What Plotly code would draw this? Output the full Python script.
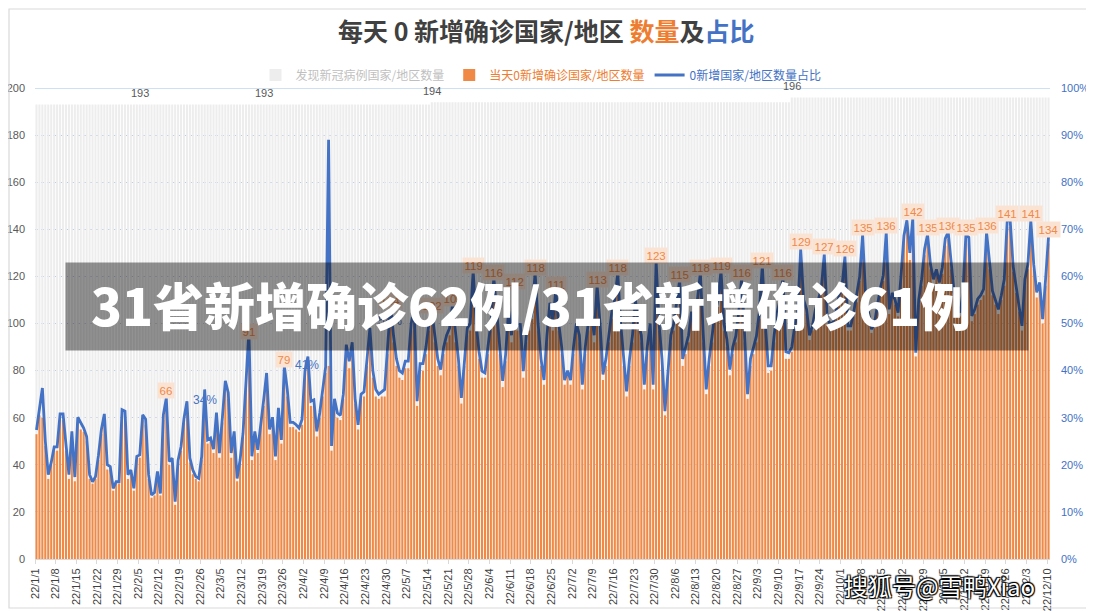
import plotly.graph_objects as go
import pandas as pd

# ---------------- data ----------------
start_date = "2022-01-01"

# 当天0新增确诊国家/地区数量 (daily, from 22/1/1)
zero_new = [
    53, 61, 60, 48, 34, 40, 46,
    46, 59, 59, 46, 34, 52, 33,
    58, 55, 54, 50, 34, 32, 34,
    42, 53, 59, 38, 38, 29, 32,
    32, 61, 61, 34, 36, 29, 42,
    43, 59, 57, 34, 26, 27, 36,
    27, 59, 66, 40, 41, 23, 41,
    46, 58, 65, 41, 36, 34, 33,
    42, 69, 49, 50, 45, 60, 43,
    58, 73, 68, 43, 52, 33, 41,
    52, 72, 91, 42, 52, 45, 56,
    65, 76, 53, 58, 42, 62, 49,
    79, 69, 56, 56, 55, 54, 57,
    77, 83, 65, 65, 52, 60, 69,
    79, 82, 46, 66, 60, 59, 68,
    88, 81, 89, 66, 55, 68, 69,
    82, 95, 77, 69, 68, 69, 69,
    87, 104, 92, 82, 77, 76, 81,
    81, 97, 103, 65, 80, 80, 87,
    97, 102, 92, 82, 78, 87, 92,
    95, 105, 92, 82, 66, 82, 95,
    97, 119, 97, 85, 77, 77, 87,
    97, 116, 102, 87, 73, 84, 103,
    92, 112, 97, 97, 77, 92, 97,
    102, 118, 97, 82, 74, 92, 106,
    97, 111, 97, 87, 74, 78, 74,
    87, 97, 92, 72, 87, 97, 102,
    92, 113, 97, 76, 82, 92, 102,
    107, 118, 97, 82, 69, 82, 92,
    107, 97, 92, 72, 87, 97, 72,
    123, 97, 82, 61, 78, 92, 97,
    107, 115, 82, 87, 92, 102, 97,
    107, 118, 92, 70, 82, 92, 102,
    107, 119, 97, 90, 78, 87, 92,
    101, 116, 92, 68, 82, 87, 92,
    102, 121, 97, 79, 80, 92, 101,
    107, 116, 85, 85, 88, 97, 103,
    129, 108, 104, 93, 97, 104, 108,
    113, 127, 100, 98, 98, 103, 109,
    113, 126, 97, 97, 103, 109, 118,
    135, 109, 103, 96, 98, 105, 113,
    118, 136, 104, 111, 108, 103, 118,
    135, 141, 127, 142, 86, 108, 116,
    129, 135, 123, 116, 121, 115, 121,
    133, 136, 123, 111, 106, 103, 111,
    135, 134, 101, 104, 108, 110, 112,
    136, 123, 112, 108, 104, 110, 116,
    141, 141, 122, 113, 105, 97, 116,
    123, 141, 123, 111, 115, 100, 116,
    134,
]

# 0新增国家/地区数量占比 (%)
zero_share = [
    27.4, 31.5, 36.3, 25.0, 17.9, 20.5, 23.8,
    23.8, 30.8, 30.8, 24.0, 17.9, 27.1, 17.4,
    30.1, 28.8, 27.8, 26.0, 17.9, 16.4, 17.5,
    22.0, 27.5, 30.8, 20.0, 19.6, 15.0, 16.4,
    16.4, 31.7, 31.4, 17.9, 18.9, 15.0, 21.8,
    22.1, 30.6, 29.7, 17.9, 13.6, 14.1, 18.6,
    13.9, 30.6, 34.2, 20.7, 21.4, 12.2, 21.0,
    23.9, 29.9, 33.5, 21.4, 18.9, 17.5, 17.1,
    21.8, 36.0, 25.3, 25.7, 23.3, 31.1, 22.5,
    30.0, 37.8, 35.3, 22.5, 27.1, 17.1, 21.0,
    26.7, 37.5, 48.5, 21.8, 27.1, 23.2, 29.2,
    33.8, 39.5, 27.5, 30.1, 21.8, 32.1, 25.3,
    41.0, 36.0, 29.0, 29.0, 28.5, 27.8, 29.6,
    40.0, 43.0, 33.5, 33.8, 27.1, 31.0, 36.0,
    40.8, 89.0, 24.0, 34.0, 31.0, 30.5, 35.0,
    45.5, 42.0, 46.0, 34.0, 28.5, 35.0, 35.5,
    42.5, 49.0, 40.0, 36.0, 35.0, 35.5, 36.0,
    45.0, 54.0, 47.5, 42.5, 40.0, 39.5, 42.0,
    42.0, 50.0, 53.3, 33.5, 41.5, 41.5, 45.0,
    50.0, 52.6, 47.5, 42.5, 40.2, 45.0, 47.5,
    49.0, 54.1, 47.5, 42.5, 34.2, 42.5, 49.0,
    50.0, 61.3, 50.0, 44.0, 39.9, 39.5, 45.0,
    50.0, 59.8, 52.5, 45.0, 37.8, 43.4, 52.9,
    47.5, 57.7, 50.0, 49.8, 39.9, 47.5, 50.0,
    52.5, 60.8, 50.0, 42.5, 38.0, 47.5, 54.4,
    50.0, 57.2, 50.0, 45.0, 38.0, 40.0, 38.0,
    45.0, 50.0, 47.5, 37.0, 45.0, 50.0, 52.5,
    47.5, 58.2, 50.0, 39.2, 42.5, 47.5, 52.5,
    55.0, 60.8, 50.0, 42.5, 35.6, 42.5, 47.5,
    55.0, 50.0, 47.5, 37.0, 45.0, 50.0, 37.0,
    63.4, 50.0, 42.5, 31.4, 40.0, 47.5, 50.0,
    55.0, 59.3, 42.5, 45.0, 47.5, 52.5, 50.0,
    55.0, 60.8, 47.5, 36.0, 42.5, 47.5, 52.5,
    55.0, 61.3, 50.0, 46.6, 40.2, 45.0, 47.3,
    52.3, 59.8, 47.5, 35.0, 42.5, 45.0, 47.3,
    52.5, 62.4, 50.0, 41.0, 41.0, 47.5, 52.3,
    55.0, 59.8, 44.0, 43.8, 45.0, 49.5, 52.5,
    65.8, 55.0, 53.0, 47.5, 49.5, 53.0, 55.0,
    57.5, 64.8, 50.9, 50.0, 50.2, 52.5, 55.9,
    57.7, 64.3, 49.5, 49.5, 52.5, 55.9, 60.0,
    68.9, 55.9, 52.5, 48.8, 50.0, 53.7, 57.5,
    60.2, 69.4, 53.0, 56.5, 55.0, 52.3, 60.0,
    68.7, 71.9, 65.0, 72.4, 43.8, 55.0, 59.4,
    65.8, 68.9, 62.5, 59.4, 61.5, 58.7, 61.9,
    68.0, 69.4, 63.0, 56.6, 54.0, 52.3, 56.6,
    68.9, 68.3, 51.6, 53.0, 55.2, 56.0, 57.3,
    69.4, 62.5, 56.9, 55.0, 53.0, 56.0, 59.4,
    71.9, 71.9, 62.2, 57.5, 53.7, 49.5, 59.4,
    62.5, 71.9, 62.5, 56.6, 58.7, 50.9, 59.4,
    68.4,
]

# 发现新冠病例国家/地区数量: (value, number of days)
total_segments = [(193, 134), (194, 122), (196, 88)]

tick_labels = [
    "22/1/1", "22/1/8", "22/1/15", "22/1/22", "22/1/29", "22/2/5", "22/2/12",
    "22/2/19", "22/2/26", "22/3/5", "22/3/12", "22/3/19", "22/3/26", "22/4/2",
    "22/4/9", "22/4/16", "22/4/23", "22/4/30", "22/5/7", "22/5/14", "22/5/21",
    "22/5/28", "22/6/4", "22/6/11", "22/6/18", "22/6/25", "22/7/2", "22/7/9",
    "22/7/16", "22/7/23", "22/7/30", "22/8/6", "22/8/13", "22/8/20", "22/8/27",
    "22/9/3", "22/9/10", "22/9/17", "22/9/24", "22/10/1", "22/10/8", "22/10/15",
    "22/10/22", "22/10/29", "22/11/5", "22/11/12", "22/11/19", "22/11/26",
    "22/12/3", "22/12/10",
]
left_ticks = list(range(0, 201, 20))
right_ticks = list(range(0, 101, 10))

# days that carry an orange value label
orange_label_dates = [
    "2022-02-14", "2022-03-14", "2022-03-26", "2022-05-01", "2022-05-15",
    "2022-05-22", "2022-05-29", "2022-06-05", "2022-06-12", "2022-06-19",
    "2022-06-26", "2022-07-10", "2022-07-17", "2022-07-30", "2022-08-07",
    "2022-08-14", "2022-08-21", "2022-08-28", "2022-09-04", "2022-09-11",
    "2022-09-17", "2022-09-25", "2022-10-02", "2022-10-08", "2022-10-16",
    "2022-10-25", "2022-10-30", "2022-11-06", "2022-11-12", "2022-11-19",
    "2022-11-26", "2022-12-04", "2022-12-10",
]
# days that carry a grey value label
grey_label_dates = ["2022-02-05", "2022-03-19", "2022-05-15", "2022-09-14"]
# percent labels: (date-time, left-axis height, text)
pct_labels = [("2022-02-27 02:00", 67.7, "34%"),
              ("2022-04-02 17:00", 82.2, "41%"),
              ("2022-04-30 19:00", 101.0, "54%")]

# ---------------- build ----------------
dates = pd.date_range(start_date, periods=len(zero_new), freq="D")
total = []
for v, n in total_segments:
    total += [v] * n

DAY_MS = 86400000
ORANGE = "#EF8945"
BLUE = "#4472C4"
GREY_TXT = "#595959"
FONT = "Noto Sans CJK SC, Liberation Sans, Arial, sans-serif"

# the page body has an 8px margin: the figure occupies page px 8..1094 / 8..611
OFF = 8
FW, FH = 1094 - OFF, 611 - OFF
# plot area in page px: x 35..1050, y 88..559
L, T = 35 - OFF, 88 - OFF
R, B = 1094 - 1050, 611 - 559
PW, PH = FW - L - R, FH - T - B


def px_x(x):  # page px -> paper coordinate
    return (x - OFF - L) / PW


def px_y(y):
    return (FH - B - (y - OFF)) / PH


fig = go.Figure()
fig.add_trace(go.Bar(
    x=dates, y=total, name="<span style='color:#BFBFBF'>发现新冠病例国家/地区数量</span>",
    marker=dict(color="#EDEDED", line=dict(width=0)), width=DAY_MS * 0.7,
    hoverinfo="skip"))
fig.add_trace(go.Bar(
    x=dates, y=zero_new, name="<span style='color:#ED7D31'>当天0新增确诊国家/地区数量</span>",
    marker=dict(color=ORANGE, line=dict(width=0)), width=DAY_MS * 0.7))
fig.add_trace(go.Scatter(
    x=dates, y=zero_share, name="<span style='color:#4472C4'>0新增国家/地区数量占比</span>",
    mode="lines", line=dict(color=BLUE, width=2.8), yaxis="y2"))

annotations = []
lookup = {d.strftime("%Y-%m-%d"): i for i, d in enumerate(dates)}
for ds in orange_label_dates:
    i = lookup[ds]
    annotations.append(dict(
        x=dates[i], y=zero_new[i], xref="x", yref="y", text=str(zero_new[i]),
        showarrow=False, yanchor="bottom", yshift=5,
        font=dict(color="#EE8A4B", size=11.5, family="Liberation Sans, Arial"),
        bgcolor="#FBE3D3", borderpad=1.5))
for ds in grey_label_dates:
    i = lookup[ds]
    annotations.append(dict(
        x=dates[i], y=total[i], xref="x", yref="y", text=str(total[i]),
        showarrow=False, yanchor="bottom", yshift=3,
        font=dict(color=GREY_TXT, size=11, family="Liberation Sans, Arial")))
for xs, yv, t in pct_labels:
    annotations.append(dict(
        x=xs, y=yv, xref="x", yref="y", text=t, showarrow=False,
        font=dict(color=BLUE, size=12, family="Liberation Sans, Arial")))

# overlay banner
annotations.append(dict(
    x=px_x(65), y=px_y(262), xref="paper", yref="paper",
    xanchor="left", yanchor="top", text=" ", showarrow=False,
    width=962, height=87, borderpad=0, bgcolor="rgba(0,0,0,0.42)"))
annotations.append(dict(
    x=px_x(89), y=px_y(304), xref="paper", yref="paper",
    xanchor="left", yanchor="middle", showarrow=False,
    text="31省新增确诊62例/31省新增确诊61例",
    font=dict(color="white", size=51, family="Noto Sans CJK SC", weight=900)))
# watermark
annotations.append(dict(
    x=px_x(939), y=px_y(585), xref="paper", yref="paper",
    xanchor="center", yanchor="middle", showarrow=False,
    text="搜狐号@雪鸭Xiao",
    font=dict(color="white", size=24, family="Noto Sans CJK SC",
              shadow="1px 1px 1px #000, -1px -1px 1px #000, 1px -1px 1px #000, -1px 1px 1px #000")))
# title
annotations.append(dict(
    x=px_x(546), y=px_y(30), xref="paper", yref="paper",
    xanchor="center", yanchor="middle", showarrow=False,
    text="每天 0 新增确诊国家/地区 <span style='color:#ED7D31'>数量</span>及<span style='color:#4472C4'>占比</span>",
    font=dict(size=25, color="#404040", family="Noto Sans CJK SC", weight="bold")))

tick_vals = [pd.Timestamp(start_date) + pd.Timedelta(days=7 * k) - pd.Timedelta(hours=12)
             for k in range(len(tick_labels))]

fig.update_layout(
    width=FW, height=FH,
    margin=dict(l=L, r=R, t=T, b=B, autoexpand=False),
    paper_bgcolor="white", plot_bgcolor="white",
    barmode="overlay", bargap=0.3,
    font=dict(family=FONT, color=GREY_TXT),
    legend=dict(orientation="h", x=px_x(541), xanchor="center", y=px_y(75), yanchor="middle",
                font=dict(size=12, family="Noto Sans CJK SC"), bgcolor="rgba(0,0,0,0)",
                itemwidth=30, traceorder="normal"),
    showlegend=True,
    xaxis=dict(
        type="date", automargin=False,
        range=[pd.Timestamp(start_date) - pd.Timedelta(hours=12),
               dates[-1] + pd.Timedelta(hours=12)],
        tickvals=tick_vals, ticktext=tick_labels, tickangle=-90,
        tickfont=dict(size=11, color="#404040", family="Liberation Sans, Arial"),
        ticks="outside", ticklen=4, tickcolor="#D9D9D9",
        showline=True, linecolor="#D9D9D9", showgrid=False, zeroline=False),
    yaxis=dict(
        range=[0, 200], tickvals=left_ticks, automargin=False,
        tickfont=dict(size=11, color=GREY_TXT, family="Liberation Sans, Arial"),
        showgrid=True, gridcolor="#B4C7E7", griddash="dot", gridwidth=1,
        zeroline=False, showline=False, ticklabelstandoff=9),
    yaxis2=dict(
        range=[0, 100], overlaying="y", side="right", automargin=False,
        tickvals=right_ticks, ticktext=[f"{v}%" for v in right_ticks],
        showgrid=False, zeroline=False, showline=False,
        tickfont=dict(size=11, color=BLUE, family="Liberation Sans, Arial"),
        ticklabelstandoff=10),
    annotations=annotations,
    shapes=[
        dict(type="line", xref="paper", yref="y", x0=0, x1=1, y0=200, y1=200,
             line=dict(color="#9DC3E6", width=1.2), layer="below"),
        dict(type="rect", xref="paper", yref="paper",
             x0=px_x(9), x1=px_x(1092), y0=px_y(608), y1=px_y(9),
             line=dict(color="#D9D9D9", width=1.2)),
    ],
)

fig.write_html("out.html")
